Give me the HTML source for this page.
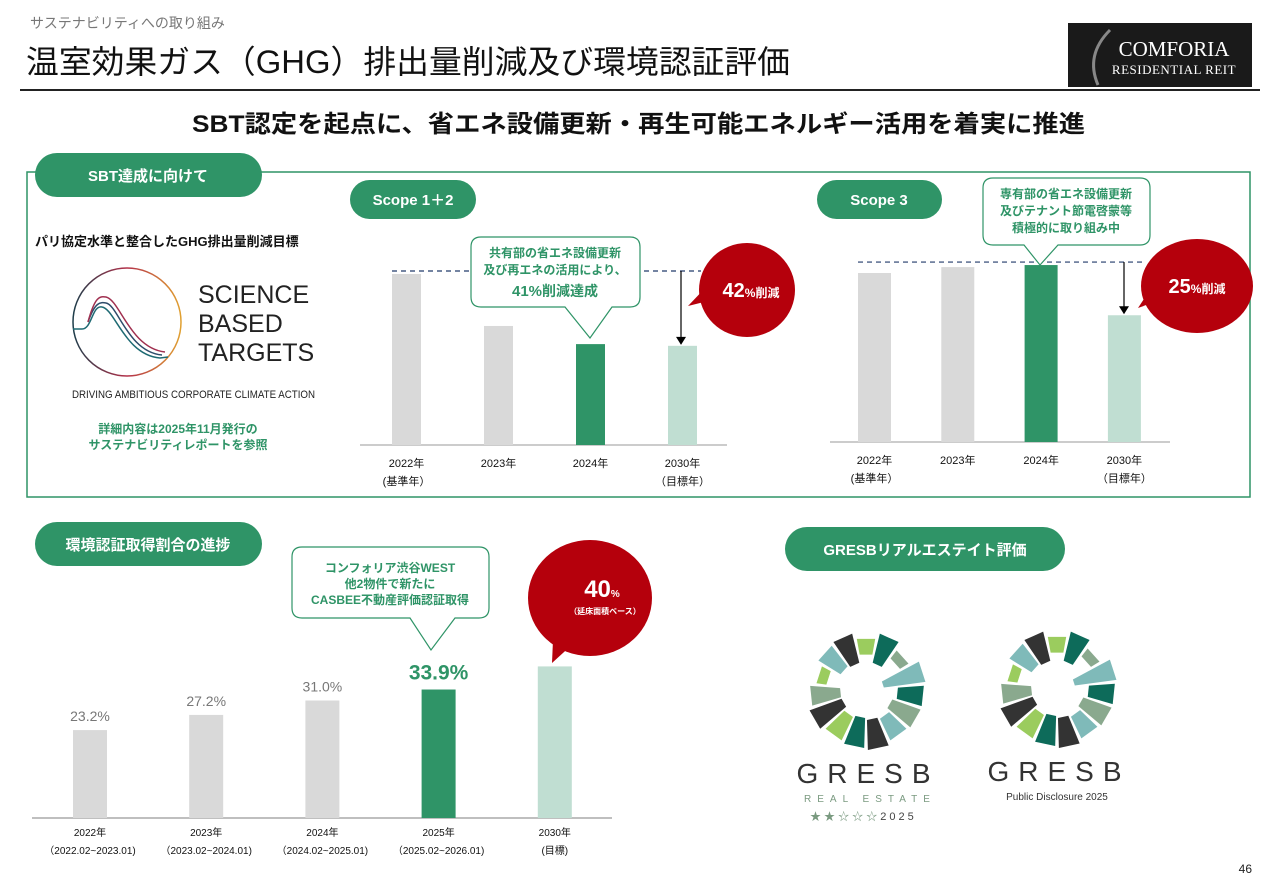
<!DOCTYPE html>
<html><head><meta charset="utf-8">
<style>
html,body{margin:0;padding:0;background:#fff;}
svg{display:block;font-family:"Liberation Sans","Noto Sans CJK JP",sans-serif;}
</style></head>
<body>
<svg id="page" width="1280" height="886" viewBox="0 0 1280 886">
<!-- header -->
<text x="30" y="28" font-size="14" fill="#777">サステナビリティへの取り組み</text>
<text x="26" y="73" font-size="32" fill="#111" textLength="764" lengthAdjust="spacingAndGlyphs">温室効果ガス（GHG）排出量削減及び環境認証評価</text>
<g>
<rect x="1068" y="23" width="184" height="64" fill="#1a1a1a"/>
<path d="M1110,30 Q1085,55 1098,85" stroke="#888" stroke-width="3" fill="none"/>
<text x="1174" y="56" font-size="21" fill="#fff" text-anchor="middle" font-family="Liberation Serif,serif">COMFORIA</text>
<text x="1174" y="74" font-size="13" fill="#fff" text-anchor="middle" font-family="Liberation Serif,serif" letter-spacing="0.5">RESIDENTIAL REIT</text>
</g>
<line x1="20" y1="90" x2="1260" y2="90" stroke="#222" stroke-width="2"/>
<text x="192" y="132" font-size="24" font-weight="bold" fill="#111" textLength="893" lengthAdjust="spacingAndGlyphs">SBT認定を起点に、省エネ設備更新・再生可能エネルギー活用を着実に推進</text>

<!-- top panel -->
<rect x="27" y="172" width="1223" height="325" fill="none" stroke="#2f9467" stroke-width="1.5"/>
<g><rect x="35" y="153" width="227" height="44" rx="22" fill="#2f9467"/>
<text x="148" y="181" font-size="15" font-weight="bold" fill="#fff" text-anchor="middle">SBT達成に向けて</text></g>
<text x="35" y="246" font-size="13" font-weight="bold" fill="#111">パリ協定水準と整合したGHG排出量削減目標</text>
<g>
<defs><linearGradient id="cg" x1="0" y1="0" x2="1" y2="0"><stop offset="0" stop-color="#1d3d4a"/><stop offset="0.5" stop-color="#b4314a"/><stop offset="1" stop-color="#e0a030"/></linearGradient></defs>
<circle cx="127" cy="322" r="54" fill="none" stroke="url(#cg)" stroke-width="1.5"/>
<path d="M73,329 L82,329 C92,329 92,305 102,307 C115,309 125,355 160,358 L168,357" fill="none" stroke="#1e6a73" stroke-width="1.5"/>
<path d="M88,322 C95,302 100,302 106,303 C118,305 128,352 162,355" fill="none" stroke="#2e4c6a" stroke-width="1.5"/>
<path d="M88,322 C95,296 100,296 106,297 C120,300 130,348 165,352" fill="none" stroke="#a03050" stroke-width="1.5"/>
<text x="198" y="303" font-size="25" fill="#222">SCIENCE</text>
<text x="198" y="332" font-size="25" fill="#222">BASED</text>
<text x="198" y="361" font-size="25" fill="#222">TARGETS</text>
<text x="72" y="398" font-size="11" fill="#222" textLength="243" lengthAdjust="spacingAndGlyphs">DRIVING AMBITIOUS CORPORATE CLIMATE ACTION</text>
</g>
<text x="178" y="433" font-size="12" font-weight="bold" fill="#2f9467" text-anchor="middle">詳細内容は2025年11月発行の</text>
<text x="178" y="449" font-size="12" font-weight="bold" fill="#2f9467" text-anchor="middle">サステナビリティレポートを参照</text>

<g><rect x="350" y="180" width="126" height="39" rx="19.5" fill="#2f9467"/>
<text x="413" y="205" font-size="15" font-weight="bold" fill="#fff" text-anchor="middle">Scope 1＋2</text></g>
<g><rect x="817" y="180" width="125" height="39" rx="19.5" fill="#2f9467"/>
<text x="879" y="205" font-size="15" font-weight="bold" fill="#fff" text-anchor="middle">Scope 3</text></g>

<g id="c1"></g>
<g id="c2"></g>

<!-- callouts top -->
<g>
<path d="M481,237 H630 Q640,237 640,247 V297 Q640,307 630,307 H612 L590,338 L565,307 H481 Q471,307 471,297 V247 Q471,237 481,237 Z" fill="#fff" stroke="#2f9467" stroke-width="1.2"/>
<text x="555" y="257" font-size="12" font-weight="bold" fill="#2f9467" text-anchor="middle">共有部の省エネ設備更新</text>
<text x="555" y="274" font-size="12" font-weight="bold" fill="#2f9467" text-anchor="middle">及び再エネの活用により、</text>
<text x="555" y="296" font-size="14" font-weight="bold" fill="#2f9467" text-anchor="middle"><tspan font-size="15">41%</tspan>削減達成</text>
</g>
<g>
<path d="M712,300 L688,306 L708,285 Z" fill="#b5000c"/>
<ellipse cx="747" cy="290" rx="48" ry="47" fill="#b5000c"/>
<text x="751" y="297" font-size="20" font-weight="bold" fill="#fff" text-anchor="middle">42<tspan font-size="12">%削減</tspan></text>
</g>
<g>
<path d="M993,178 H1140 Q1150,178 1150,188 V235 Q1150,245 1140,245 H1058 L1040,265 L1024,245 H993 Q983,245 983,235 V188 Q983,178 993,178 Z" fill="#fff" stroke="#2f9467" stroke-width="1.2"/>
<text x="1066" y="198" font-size="12" font-weight="bold" fill="#2f9467" text-anchor="middle">専有部の省エネ設備更新</text>
<text x="1066" y="215" font-size="12" font-weight="bold" fill="#2f9467" text-anchor="middle">及びテナント節電啓蒙等</text>
<text x="1066" y="232" font-size="12" font-weight="bold" fill="#2f9467" text-anchor="middle">積極的に取り組み中</text>
</g>
<g>
<path d="M1160,300 L1138,308 L1155,282 Z" fill="#b5000c"/>
<ellipse cx="1197" cy="286" rx="56" ry="47" fill="#b5000c"/>
<text x="1197" y="293" font-size="20" font-weight="bold" fill="#fff" text-anchor="middle">25<tspan font-size="12">%削減</tspan></text>
</g>

<!-- bottom left -->
<g><rect x="35" y="522" width="227" height="44" rx="22" fill="#2f9467"/>
<text x="148" y="550" font-size="15" font-weight="bold" fill="#fff" text-anchor="middle">環境認証取得割合の進捗</text></g>
<g id="c3"></g>
<g>
<path d="M302,547 H479 Q489,547 489,557 V608 Q489,618 479,618 H455 L431,650 L410,618 H302 Q292,618 292,608 V557 Q292,547 302,547 Z" fill="#fff" stroke="#2f9467" stroke-width="1.2"/>
<text x="390" y="572" font-size="12" font-weight="bold" fill="#2f9467" text-anchor="middle">コンフォリア渋谷WEST</text>
<text x="390" y="588" font-size="12" font-weight="bold" fill="#2f9467" text-anchor="middle">他2物件で新たに</text>
<text x="390" y="604" font-size="12" font-weight="bold" fill="#2f9467" text-anchor="middle">CASBEE不動産評価認証取得</text>
</g>
<g>
<path d="M553,640 L552,663 L575,642 Z" fill="#b5000c"/>
<ellipse cx="590" cy="598" rx="62" ry="58" fill="#b5000c"/>
<text x="602" y="597" font-size="24" font-weight="bold" fill="#fff" text-anchor="middle">40<tspan font-size="10">%</tspan></text>
<text x="605" y="614" font-size="8" font-weight="bold" fill="#fff" text-anchor="middle">（延床面積ベース）</text>
</g>

<!-- GRESB -->
<g><rect x="785" y="527" width="280" height="44" rx="22" fill="#2f9467"/>
<text x="925" y="555" font-size="15" font-weight="bold" fill="#fff" text-anchor="middle">GRESBリアルエステイト評価</text></g>
<g id="ring1"></g>
<g id="ring2"></g>
<text x="868" y="783" font-size="28" fill="#333" text-anchor="middle" letter-spacing="9">GRESB</text>
<text x="870" y="802" font-size="10" fill="#7a9a80" text-anchor="middle" letter-spacing="6">REAL ESTATE</text>
<text x="810" y="820" font-size="11" fill="#7a9a80">★ ★ ☆ ☆ ☆ <tspan fill="#444" letter-spacing="3">2025</tspan></text>
<text x="1059" y="781" font-size="28" fill="#333" text-anchor="middle" letter-spacing="9">GRESB</text>
<text x="1057" y="800" font-size="10" fill="#333" text-anchor="middle">Public Disclosure 2025</text>
<text x="1252" y="873" font-size="12" fill="#222" text-anchor="end">46</text>
</svg>
<script>
const NS='http://www.w3.org/2000/svg';
// Scope 1+2 data (index, base year = 100)
const s12Cats=['2022年','2023年','2024年','2030年'];
const s12Subs=['(基準年）','','','（目標年）'];
const s12Vals=[100,69.6,59,58];
// Scope 3 data
const s3Cats=['2022年','2023年','2024年','2030年'];
const s3Subs=['(基準年）','','','（目標年）'];
const s3Vals=[100,103.5,104.7,75];
// Certification ratio data
const certCats=['2022年','2023年','2024年','2025年','2030年'];
const certSubs=['（2022.02~2023.01)','（2023.02~2024.01)','（2024.02~2025.01)','（2025.02~2026.01)','(目標)'];
const certVals=[23.2,27.2,31.0,33.9,40];
const certLabels=['23.2%','27.2%','31.0%','33.9%',''];

function mk(tag,attrs,parent){const e=document.createElementNS(NS,tag);for(const k in attrs)e.setAttribute(k,attrs[k]);parent.appendChild(e);return e;}
const colors=['#d9d9d9','#d9d9d9','#2f9467','#c0ded2'];
function drawGhg(gid,cats,subs,vals,x0,step,bw,base,pxPer100,lineX1,lineX2,arrowX){
  const g=document.getElementById(gid);
  const y=v=>base-v/100*pxPer100;
  const xs=i=>x0+i*step;
  mk('line',{x1:lineX1,y1:base,x2:lineX2,y2:base,stroke:'#bbb','stroke-width':1.5},g);
  vals.forEach((v,i)=>{
    const r=mk('rect',{x:xs(i),y:y(v),width:bw,height:base-y(v),fill:colors[i]},g);
    
    
    const t=mk('text',{x:xs(i)+bw/2,y:base+22,'font-size':11,'text-anchor':'middle',fill:'#111'},g);t.textContent=cats[i];
    
    
    if(subs[i]){const s=mk('text',{x:xs(i)+bw/2,y:base+40,'font-size':11,'text-anchor':'middle',fill:'#111'},g);s.textContent=subs[i];
    
    }
  });
  const maxV=Math.max(...vals);
  const ref=mk('line',{x1:xs(0),y1:y(maxV)-3,x2:xs(vals.length-1)+bw+4,y2:y(maxV)-3,stroke:'#223a6a','stroke-width':1.2,'stroke-dasharray':'5,4'},g);
  
  
  const last=vals[vals.length-1];
  const a=mk('line',{x1:arrowX,y1:y(maxV)-3,x2:arrowX,y2:y(last)-8,stroke:'#000','stroke-width':1.2},g);
  
  
  mk('path',{d:`M${arrowX-5},${y(last)-9} L${arrowX+5},${y(last)-9} L${arrowX},${y(last)-1} Z`,fill:'#000'},g);
}
drawGhg('c1',s12Cats,s12Subs,s12Vals,392,92,29,445,171,360,727,681);
drawGhg('c2',s3Cats,s3Subs,s3Vals,858,83.3,33,442,169,830,1170,1124);

(function(){
  const g=document.getElementById('c3');
  const base=818,per=3.79,x0=73,step=116.2,bw=34;
  const y=v=>base-v*per;
  const cc=['#d9d9d9','#d9d9d9','#d9d9d9','#2f9467','#c0ded2'];
  mk('line',{x1:32,y1:base,x2:612,y2:base,stroke:'#aaa','stroke-width':1.5},g);
  certVals.forEach((v,i)=>{
    const x=x0+i*step;
    const r=mk('rect',{x:x,y:y(v),width:bw,height:base-y(v),fill:cc[i]},g);
    
    
    if(certLabels[i]){const hi=i===3;
      const t=mk('text',{x:x+bw/2,y:y(v)-(hi?10:9),'font-size':hi?21:14,'font-weight':hi?'bold':'normal','text-anchor':'middle',fill:hi?'#2f9467':'#777'},g);t.textContent=certLabels[i];
      
      }
    const a=mk('text',{x:x+bw/2,y:base+18,'font-size':10,'text-anchor':'middle',fill:'#111'},g);a.textContent=certCats[i];
    
    
    const b=mk('text',{x:x+bw/2,y:base+36,'font-size':10,'text-anchor':'middle',fill:'#111'},g);b.textContent=certSubs[i];
    
    
  });
})();

// GRESB ring segments (decorative)
const ringColors=['#9bcc5e','#0d6b5a','#8aa98e','#7fbab9','#0d6b5a','#8aa98e','#7fbab9','#333','#0d6b5a','#9bcc5e','#333','#8aa98e','#9bcc5e','#7fbab9','#333'];
const ringOuter=[52,58,50,60,58,58,56,60,58,56,60,56,50,56,58];
const ringInner=[36,28,40,18,32,28,32,30,28,30,26,26,40,30,28];
function ring(id,cx,cy){
  const g=document.getElementById(id);
  const n=ringColors.length,span=360/n;
  ringColors.forEach((c,i)=>{
    const a0=(i*span-span/2+1.8-90)*Math.PI/180,a1=(i*span+span/2-1.8-90)*Math.PI/180;
    const ro=ringOuter[i],ri=ringInner[i];
    const p=[[cx+ri*Math.cos(a0),cy+ri*Math.sin(a0)],[cx+ro*Math.cos(a0),cy+ro*Math.sin(a0)],[cx+ro*Math.cos(a1),cy+ro*Math.sin(a1)],[cx+ri*Math.cos(a1),cy+ri*Math.sin(a1)]];
    const s=mk('polygon',{points:p.map(q=>q.join(',')).join(' '),fill:c},g);
    
    
  });
}
ring('ring1',866,690);
ring('ring2',1057,688);
</script>
</body></html>
